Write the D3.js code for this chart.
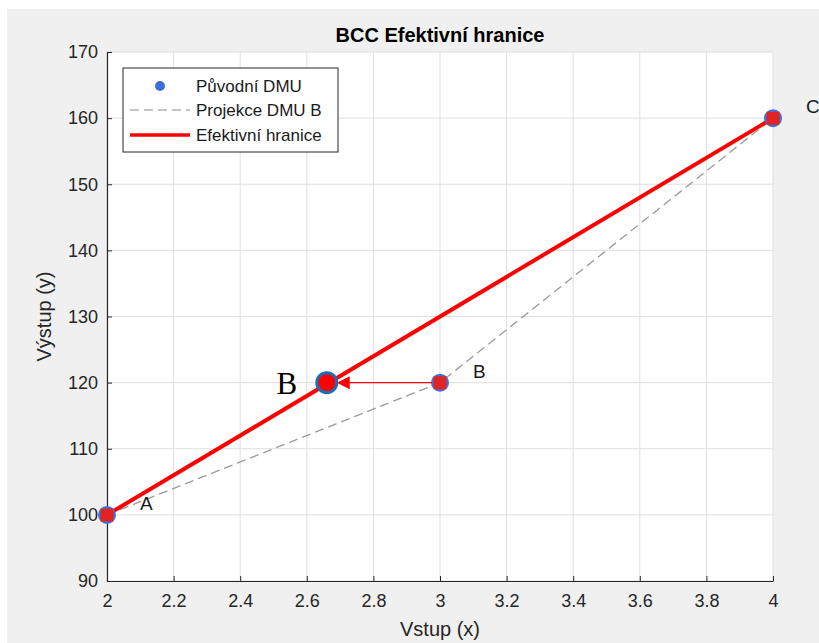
<!DOCTYPE html>
<html>
<head>
<meta charset="utf-8">
<script src="https://cdn.jsdelivr.net/npm/d3@7"></script>
<style>
  body { margin: 0; background: #fff; }
  svg { display: block; font-family: "Liberation Sans", Arial, sans-serif; }
</style>
</head>
<body>
<div id="chart"></div>
<script>
const width = 819;
const height = 643;

// data
const dmuNames = ["A", "B", "C"];
const dmuInput = [2, 3, 4];
const dmuOutput = [100, 120, 160];
const frontierX = [2, 4];
const frontierY = [100, 160];
const projX = 2.66;
const projY = 120;
const xTicks = [2, 2.2, 2.4, 2.6, 2.8, 3, 3.2, 3.4, 3.6, 3.8, 4];
const yTicks = [90, 100, 110, 120, 130, 140, 150, 160, 170];
const legendLabels = ["Původní DMU", "Projekce DMU B", "Efektivní hranice"];

const margin = { left: 107, right: 819 - 773, top: 52, bottom: 643 - 581 };

const svg = d3.select("#chart")
    .append("svg")
    .attr("width", width)
    .attr("height", height);

// gray figure background
svg.append("rect")
    .attr("x", 7).attr("y", 9)
    .attr("width", width - 7).attr("height", height - 9)
    .attr("fill", "#f0f0f0");

const x = d3.scaleLinear().domain([2, 4]).range([margin.left, width - margin.right]);
const y = d3.scaleLinear().domain([90, 170]).range([height - margin.bottom, margin.top]);

// plot area
svg.append("rect")
    .attr("x", x(2)).attr("y", y(170))
    .attr("width", x(4) - x(2)).attr("height", y(90) - y(170))
    .attr("fill", "#fff");

// grid
svg.append("g").selectAll("line")
    .data(xTicks).enter().append("line")
    .attr("x1", d => x(d)).attr("x2", d => x(d))
    .attr("y1", y(90)).attr("y2", y(170))
    .attr("stroke", "#dfdfdf").attr("stroke-width", 1);
svg.append("g").selectAll("line")
    .data(yTicks).enter().append("line")
    .attr("x1", x(2)).attr("x2", x(4))
    .attr("y1", d => y(d)).attr("y2", d => y(d))
    .attr("stroke", "#dfdfdf").attr("stroke-width", 1);

// axes
const xAxis = svg.append("g")
    .attr("transform", `translate(0,${y(90)})`)
    .call(d3.axisBottom(x).tickValues(xTicks).tickSizeInner(-5).tickSizeOuter(0).tickPadding(13).tickFormat(d3.format("~g")));
const yAxis = svg.append("g")
    .attr("transform", `translate(${x(2)},0)`)
    .call(d3.axisLeft(y).tickValues(yTicks).tickSizeInner(-5).tickSizeOuter(0).tickPadding(9));

[xAxis, yAxis].forEach(g => {
    g.select(".domain").attr("stroke", "#262626").attr("stroke-width", 1.2);
    g.selectAll(".tick line").attr("stroke", "#262626");
    g.selectAll(".tick text").attr("fill", "#262626").style("font-size", "18px").style("font-family", "Liberation Sans, Arial, sans-serif");
});

// axis labels + title
svg.append("text")
    .attr("x", (x(2) + x(4)) / 2).attr("y", 636)
    .attr("text-anchor", "middle")
    .attr("fill", "#262626").style("font-size", "20px")
    .text("Vstup (x)");
svg.append("text")
    .attr("transform", `translate(51,${(y(90) + y(170)) / 2}) rotate(-90)`)
    .attr("text-anchor", "middle")
    .attr("fill", "#262626").style("font-size", "20px")
    .text("Výstup (y)");
svg.append("text")
    .attr("x", (x(2) + x(4)) / 2).attr("y", 42)
    .attr("text-anchor", "middle")
    .attr("fill", "#000").style("font-size", "20px").style("font-weight", "bold")
    .text("BCC Efektivní hranice");

const pts = dmuNames.map((n, i) => ({ name: n, x: dmuInput[i], y: dmuOutput[i] }));

// dashed projection line through original DMUs
svg.append("path")
    .datum(pts)
    .attr("d", d3.line().x(d => x(d.x)).y(d => y(d.y)))
    .attr("fill", "none")
    .attr("stroke", "#9a9a9a")
    .attr("stroke-width", 1.3)
    .attr("stroke-dasharray", "9,5");

// efficient frontier
svg.append("path")
    .datum(frontierX.map((v, i) => ({ x: v, y: frontierY[i] })))
    .attr("d", d3.line().x(d => x(d.x)).y(d => y(d.y)))
    .attr("fill", "none")
    .attr("stroke", "#ff0000")
    .attr("stroke-width", 4);

// original DMU points
svg.append("g").selectAll("circle")
    .data(pts).enter().append("circle")
    .attr("cx", d => x(d.x)).attr("cy", d => y(d.y))
    .attr("r", 9)
    .attr("fill", "#4070d8");
svg.append("g").selectAll("rect")
    .data(pts).enter().append("rect")
    .attr("x", d => x(d.x) - 6.5).attr("y", d => y(d.y) - 6.5)
    .attr("width", 13).attr("height", 13)
    .attr("rx", 1.5)
    .attr("fill", "#e02424");

// arrow B -> projection
const bPt = pts[1];
svg.append("line")
    .attr("x1", x(bPt.x) - 8).attr("y1", y(bPt.y))
    .attr("x2", x(projX) + 20).attr("y2", y(projY))
    .attr("stroke", "#ff0000").attr("stroke-width", 1.3);
svg.append("path")
    .attr("d", `M${x(projX) + 10},${y(projY)} L${x(projX) + 23},${y(projY) - 6.5} L${x(projX) + 23},${y(projY) + 6.5} Z`)
    .attr("fill", "#ff0000");

// projected point
svg.append("circle")
    .attr("cx", x(projX)).attr("cy", y(projY))
    .attr("r", 10)
    .attr("fill", "#ff0000")
    .attr("stroke", "#1a6fb8")
    .attr("stroke-width", 3);

// labels
svg.append("g").selectAll("text")
    .data(pts).enter().append("text")
    .attr("x", d => x(d.x) + 33).attr("y", d => y(d.y) - 5)
    .attr("fill", "#1a1a1a").style("font-size", "19px")
    .text(d => d.name);
svg.append("text")
    .attr("x", x(projX) - 40).attr("y", y(projY) + 11)
    .attr("text-anchor", "middle")
    .style("font-family", "Liberation Serif, Times New Roman, serif")
    .style("font-size", "31px")
    .attr("fill", "#000")
    .text("B");

// legend
const legend = svg.append("g").attr("transform", "translate(123,68)");
legend.append("rect")
    .attr("width", 215).attr("height", 84)
    .attr("fill", "#fff").attr("stroke", "#262626").attr("stroke-width", 1);
const rowY = [18, 42, 67];
legend.append("circle").attr("cx", 37).attr("cy", rowY[0]).attr("r", 5).attr("fill", "#3d6fd6");
legend.append("line").attr("x1", 7).attr("x2", 67).attr("y1", rowY[1]).attr("y2", rowY[1])
    .attr("stroke", "#8a8a8a").attr("stroke-width", 1).attr("stroke-dasharray", "9,5");
legend.append("line").attr("x1", 7).attr("x2", 67).attr("y1", rowY[2]).attr("y2", rowY[2])
    .attr("stroke", "#ff0000").attr("stroke-width", 3.5);
legend.selectAll("text.lbl")
    .data(legendLabels).enter().append("text")
    .attr("class", "lbl")
    .attr("x", 73).attr("y", (d, i) => rowY[i] + 6)
    .attr("fill", "#1a1a1a").style("font-size", "17px")
    .text(d => d);
</script>
</body>
</html>
